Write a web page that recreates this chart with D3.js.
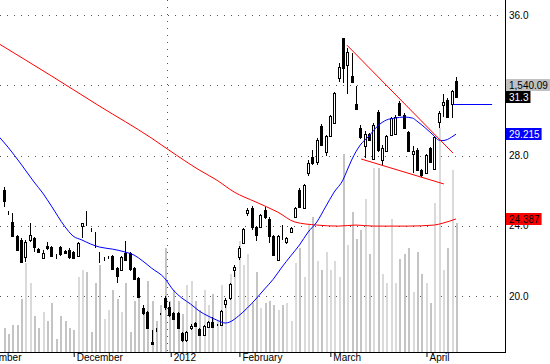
<!DOCTYPE html>
<html lang="en">
<head>
<meta charset="utf-8">
<title>Candlestick chart</title>
<script src="https://d3js.org/d3.v7.min.js"></script>
<style>
body{margin:0;background:#fff;}
svg{display:block;font-family:Arial,"Liberation Sans",sans-serif;font-size:10px;}
</style>
</head>
<body>
<div id="chart"></div>
<script>
// daily prices, oldest first
var opens = [26.03,24.80,24.21,23.41,23.19,22.22,23.19,23.30,22.67,22.16,
22.84,22.79,22.24,22.79,22.56,22.62,22.50,22.28,23.98,24.00,
23.78,22.81,21.95,22.10,22.16,22.28,21.59,21.48,22.45,22.45,
21.59,21.02,19.31,19.09,17.38,18.08,18.99,19.88,19.37,19.03,
19.03,17.89,17.49,18.17,18.46,18.12,17.78,18.23,18.52,18.34,
18.34,19.54,19.88,21.48,22.22,23.01,24.72,25.01,23.93,23.93,
24.89,24.38,23.41,22.05,23.60,23.07,23.64,24.50,26.03,25.01,
27.00,27.91,27.63,29.68,28.20,29.11,29.85,32.41,34.69,33.15,
32.53,30.93,29.56,28.54,29.22,27.80,30.48,27.74,28.25,29.17,
29.22,30.99,30.31,29.34,28.08,28.31,27.17,27.00,28.43,27.23,
29.90,30.90,31.16,30.93,32.24]
var highs = [26.20,24.84,24.72,23.45,23.30,23.19,24.15,23.36,22.75,22.62,
23.07,22.86,22.39,22.86,22.62,22.73,22.56,23.07,24.15,24.84,
23.87,23.64,22.50,22.20,22.28,22.33,21.65,22.28,23.13,22.50,
21.65,21.08,19.48,19.15,18.06,18.17,19.03,20.00,19.66,19.09,
19.09,17.95,17.98,18.40,18.52,18.17,18.35,18.60,18.80,18.40,
19.20,19.88,20.74,21.76,22.84,23.87,25.01,25.12,24.00,24.67,
25.07,24.50,23.47,23.47,24.04,23.36,23.93,25.07,26.15,26.38,
27.74,28.30,28.99,29.80,29.17,30.31,31.62,33.27,34.69,34.12,
33.83,31.96,29.74,29.40,29.28,29.85,30.60,28.60,29.17,30.20,
30.31,31.10,30.42,29.40,28.54,28.40,27.23,28.08,28.50,29.11,
30.53,31.50,31.27,31.73,32.47]
var lows = [25.07,24.61,23.36,22.56,21.90,21.93,23.07,22.50,22.45,22.10,
22.62,22.22,22.10,22.30,22.39,22.10,22.10,22.22,23.30,23.98,
23.64,22.73,21.88,22.00,22.10,21.50,20.74,21.40,22.00,21.45,
20.90,19.90,18.92,18.10,17.21,17.95,18.92,19.20,18.80,18.63,
18.10,17.40,17.40,18.06,18.23,17.72,17.72,18.17,18.17,18.29,
18.29,19.31,19.80,21.08,22.05,22.95,24.55,23.76,23.13,23.87,
24.38,23.01,22.28,21.99,23.19,22.95,23.58,24.44,25.01,24.95,
26.83,27.46,27.46,28.54,27.97,29.05,29.80,32.18,32.13,31.50,
32.10,30.60,28.95,27.86,28.82,27.74,28.20,27.46,28.20,29.11,
29.17,30.25,29.51,28.20,27.00,27.11,26.75,26.94,27.57,27.17,
29.56,30.19,30.13,30.13,31.27]
var closes = [25.41,24.78,23.41,22.62,21.93,23.07,23.47,22.79,22.50,22.45,
22.73,22.28,22.22,22.39,22.45,22.22,22.16,23.01,24.15,23.98,
23.76,22.79,21.93,22.12,22.18,21.53,21.14,22.22,22.05,21.53,
20.96,19.94,19.03,18.17,17.26,18.06,18.97,19.37,18.92,18.69,
18.17,17.49,17.95,18.29,18.29,17.78,18.29,18.52,18.23,18.34,
19.14,19.77,20.68,21.65,22.73,23.81,24.89,23.93,23.47,24.61,
24.50,23.41,22.33,23.41,23.58,23.30,23.87,25.01,25.07,26.32,
27.57,27.57,28.88,28.60,29.11,30.25,31.56,33.04,32.98,33.89,
32.18,30.65,29.05,29.22,28.88,29.74,28.31,28.43,29.11,30.13,
30.19,30.31,29.56,28.25,28.25,27.17,26.89,28.03,27.63,29.05,
30.42,31.05,30.19,31.67,31.33]
var volumes = [11,8,12,12,24,40,31,16,11,18,
14,22,6,16,14,11,10,34,37,36,
9,31,39,15,19,28,24,18,31,9,
23,28,19,32,23,14,21,47,23,28,
23,17,30,32,23,19,28,21,26,14,
30,23,35,36,50,39,44,22,36,20,
22,23,21,19,21,22,14,40,47,34,
57,61,41,37,45,37,41,34,89,48,
63,51,55,69,44,83,83,35,31,60,
31,42,44,47,27,45,35,31,22,67,
101,37,47,82,58]

// moving averages: [day index, value]
var maShort = [[-1,29.05],[1,28.48],[4,27.51],[7,26.49],[9,25.86],[11,25.12],[14,23.98],[16,23.41],
[18,23.19],[20,22.96],[22,22.79],[25,22.67],[28,22.50],[30,22.33],[32,21.99],[34,21.59],[37,21.02],
[39,20.34],[41,19.88],[43,19.54],[45,19.14],[47,18.86],[49,18.63],[51,18.46],[52,18.52],[54,18.86],
[56,19.31],[58,19.83],[60,20.40],[62,20.96],[64,21.65],[66,22.28],[68,22.90],[70,23.64],[72,24.21],
[74,25.07],[76,25.92],[78,26.60],[79,27.17],[80,27.74],[82,28.60],[84,29.11],[86,29.68],[88,30.02],
[90,30.13],[92,30.19],[94,30.13],[95,29.96],[97,29.56],[99,29.11],[100,28.88],[101,28.85],[102,28.91],
[103,29.05],[104,29.215]]
var maLong = [[-1,34.35],[11,32.53],[22,30.82],[34,28.99],[38,28.31],[45,27.17],[49,26.60],[53,25.92],
[58,25.35],[63,24.78],[67,24.21],[72,24.04],[77,23.98],[81,24.04],[85,23.98],[93,23.98],[99,24.04],
[101,24.15],[104,24.387]]

// drawn trend lines: [start index, start price, end index, end price]
var trendLines = [[78.9,34.29,103.3,28.14],[82.2,27.80,101.2,26.38]]
var lastLine = [103.3,30.93,112.3,30.93]

var monthLabels = ["November","December","2012","February","March","April"]
var monthIdx = [-7.3,16,38.3,54.1,75,97.1]
var yearGrid = [37.6]
var priceTicks = [20,24,28,32,36]

var tagText = ["1,540.09","31.3","29.215","24.387"]
var tagValue = [32.0,31.33,29.215,24.387]
var tagFill = ["#c0c0c0","#000000","#0000ff","#ff0000"]
var tagInk = ["#000000","#ffffff","#ffffff","#000000"]

var w = 550, h = 364
var axisX = 505, axisY = 352

var svg = d3.select("#chart").append("svg")
    .attr("width", w).attr("height", h)

var x = d3.scaleLinear().domain([0, 104]).range([3.6, 456])
var y = d3.scaleLinear().domain([20, 36]).range([296, 15])
var yVol = d3.scaleLinear().domain([0, 100]).range([axisY, 130])

var data = opens.map(function(o, i){
    return {i:i, o:o, h:highs[i], l:lows[i], c:closes[i], v:volumes[i]}
})
function col(i){ return Math.round(x(i)) }

// dotted grid
svg.append("g").selectAll("line").data(priceTicks).enter().append("line")
    .attr("x1", 0).attr("x2", axisX - 2)
    .attr("y1", function(d){ return Math.round(y(d)) + 0.5 })
    .attr("y2", function(d){ return Math.round(y(d)) + 0.5 })
    .attr("stroke", "#555").attr("stroke-dasharray", "1,6")
svg.append("g").selectAll("line").data(yearGrid).enter().append("line")
    .attr("x1", function(d){ return col(d) + 0.5 }).attr("x2", function(d){ return col(d) + 0.5 })
    .attr("y1", 0).attr("y2", axisY)
    .attr("stroke", "#555").attr("stroke-dasharray", "1,6")

// volume
svg.append("g").selectAll("rect").data(data).enter().append("rect")
    .attr("x", function(d){ return col(d.i) })
    .attr("width", 2)
    .attr("y", function(d){ return yVol(d.v) })
    .attr("height", function(d){ return axisY - yVol(d.v) })
    .attr("fill", function(d){ return d.c >= d.o ? "#dadada" : "#c4c4c4" })
    .attr("shape-rendering", "crispEdges")

// long MA under the candles
var line = d3.line()
    .x(function(d){ return x(d[0]) })
    .y(function(d){ return y(d[1]) })
    .curve(d3.curveMonotoneX)
svg.append("path").datum(maLong).attr("d", line)
    .attr("fill", "none").attr("stroke", "#ff0000").attr("stroke-width", 1)

// candles
var candles = svg.append("g").attr("shape-rendering", "crispEdges")
candles.selectAll("line").data(data).enter().append("line")
    .attr("x1", function(d){ return col(d.i) + 0.5 })
    .attr("x2", function(d){ return col(d.i) + 0.5 })
    .attr("y1", function(d){ return y(d.h) })
    .attr("y2", function(d){ return y(d.l) })
    .attr("stroke", "#000")
candles.selectAll("rect").data(data).enter().append("rect")
    .attr("x", function(d){ return col(d.i) - 0.5 })
    .attr("width", 2)
    .attr("y", function(d){ return Math.round(y(Math.max(d.o, d.c))) + 0.5 })
    .attr("height", function(d){ return Math.max(0, Math.round(y(Math.min(d.o, d.c)) - y(Math.max(d.o, d.c)))) })
    .attr("fill", function(d){ return d.c >= d.o ? "#fff" : "#000" })
    .attr("stroke", "#000")

// short MA
svg.append("path").datum(maShort).attr("d", line)
    .attr("fill", "none").attr("stroke", "#0000ff").attr("stroke-width", 1)

// trend lines
svg.append("g").selectAll("line").data(trendLines).enter().append("line")
    .attr("x1", function(d){ return x(d[0]) }).attr("y1", function(d){ return y(d[1]) })
    .attr("x2", function(d){ return x(d[2]) }).attr("y2", function(d){ return y(d[3]) })
    .attr("stroke", "#ff0000")
svg.append("line")
    .attr("x1", x(lastLine[0])).attr("y1", Math.round(y(lastLine[1])) + 0.5)
    .attr("x2", x(lastLine[2])).attr("y2", Math.round(y(lastLine[3])) + 0.5)
    .attr("stroke", "#0000ff")

// axes
var yAxis = d3.axisRight(y).tickValues(priceTicks).tickSize(0).tickPadding(4)
    .tickFormat(d3.format(".1f"))
svg.append("g").attr("transform", "translate(" + axisX + ",0)").call(yAxis)
    .call(function(g){ g.select(".domain").remove() })
    .selectAll("text").attr("fill", "#000").style("font-size", "10px")

var xAxis = d3.axisBottom(x).tickValues(monthIdx).tickSize(5)
    .tickFormat(function(d, i){ return monthLabels[i] })
svg.append("g").attr("transform", "translate(0," + axisY + ")").call(xAxis)
    .call(function(g){
        g.select(".domain").remove()
        g.selectAll(".tick line").attr("stroke", "#000")
            .attr("transform", function(){ return "translate(0.5,0)" })
        g.selectAll(".tick text").attr("text-anchor", "start")
            .attr("x", 3).attr("y", 2).attr("dy", "0.71em")
            .attr("fill", "#000").style("font-size", "10px")
    })

svg.append("line").attr("x1", axisX + 0.5).attr("x2", axisX + 0.5)
    .attr("y1", 0).attr("y2", axisY + 0.5).attr("stroke", "#000")
svg.append("line").attr("x1", 0).attr("x2", axisX + 1)
    .attr("y1", axisY + 0.5).attr("y2", axisY + 0.5).attr("stroke", "#000")

// value tags on the right
var tags = svg.append("g").selectAll("g").data(tagText).enter().append("g")
    .attr("transform", function(d, i){ return "translate(" + (axisX + 1) + "," + Math.round(y(tagValue[i])) + ")" })
var tagLabels = tags.append("text")
    .attr("x", 3).attr("dy", "0.35em")
    .attr("fill", function(d, i){ return tagInk[i] })
    .text(function(d){ return d })
tags.insert("rect", "text")
    .attr("x", 0).attr("y", -6).attr("height", 12)
    .attr("width", function(d, i){ return tagLabels.nodes()[i].getComputedTextLength() + 5 })
    .attr("fill", function(d, i){ return tagFill[i] })
</script>
</body>
</html>
